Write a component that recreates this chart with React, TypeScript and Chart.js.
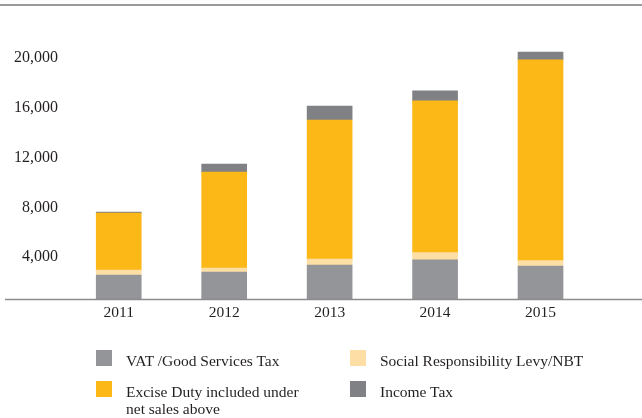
import React, { useEffect, useRef } from "react";
import { Chart, registerables } from "chart.js";

Chart.register(...registerables);

const categories = ["2011", "2012", "2013", "2014", "2015"];
const vatValues = [1930, 2170, 2730, 3140, 2650];
const levyValues = [400, 320, 480, 590, 430];
const exciseValues = [4580, 7720, 11180, 12200, 16140];
const incomeValues = [80, 640, 1130, 800, 640];

const seriesNames = [
  "VAT /Good Services Tax",
  "Social Responsibility Levy/NBT",
  "Excise Duty included under\nnet sales above",
  "Income Tax",
];
const seriesColors = ["#939598", "#FDDFA6", "#FBB817", "#808184"];
const yTickValues = [4000, 8000, 12000, 16000, 20000];

const FONT = "'Liberation Serif', 'Times New Roman', serif";
const TEXT = "#231F20";

const linesPlugin = {
  id: "customLines",
  afterDatasetsDraw(chart: any) {
    const ctx = chart.ctx;
    const bottom = chart.chartArea.bottom;
    ctx.save();
    ctx.strokeStyle = "#9A9A9A";
    ctx.lineWidth = 2;
    ctx.beginPath();
    ctx.moveTo(0, 5);
    ctx.lineTo(chart.width, 5);
    ctx.stroke();
    ctx.strokeStyle = "#8C8C8C";
    ctx.lineWidth = 1.5;
    ctx.beginPath();
    ctx.moveTo(5, bottom + 0.5);
    ctx.lineTo(chart.width, bottom + 0.5);
    ctx.stroke();
    ctx.restore();
  },
};

export default function App() {
  const ref = useRef<HTMLCanvasElement | null>(null);

  useEffect(() => {
    if (!ref.current) return;
    const seriesData = [vatValues, levyValues, exciseValues, incomeValues];
    const chart = new Chart(ref.current, {
      type: "bar",
      data: {
        labels: categories,
        datasets: seriesData.map((d, i) => ({
          label: seriesNames[i],
          data: d,
          backgroundColor: seriesColors[i],
          borderWidth: 0,
          barThickness: 45,
          stack: "s",
        })),
      },
      options: {
        animation: false,
        responsive: false,
        devicePixelRatio: 1,
        layout: { padding: { top: 50.25, right: 48.75, bottom: 89, left: 0 } },
        plugins: {
          legend: { display: false },
          tooltip: { enabled: false },
        },
        scales: {
          x: {
            stacked: true,
            grid: { display: false },
            border: { display: false },
            ticks: {
              color: TEXT,
              font: { family: FONT, size: 15.5 },
              padding: -3,
            },
            afterFit: (s: any) => {
              s.height = 30;
            },
          },
          y: {
            stacked: true,
            min: 0,
            max: 20000,
            grid: { display: false },
            border: { display: false },
            afterBuildTicks: (s: any) => {
              s.ticks = [0, ...yTickValues].map((v) => ({ value: v }));
            },
            ticks: {
              color: TEXT,
              font: { family: FONT, size: 16 },
              padding: 0,
              labelOffset: 8,
              callback: (v: any) => (v === 0 ? "" : Number(v).toLocaleString("en-US")),
            },
            afterFit: (s: any) => {
              s.width = 66;
            },
          },
        },
      },
      plugins: [linesPlugin],
    });
    return () => chart.destroy();
  }, []);

  const legendPos = [
    { left: 96, top: 350 },
    { left: 350, top: 350 },
    { left: 96, top: 381 },
    { left: 350, top: 381 },
  ];

  return (
    <div style={{ position: "fixed", left: 0, top: 0, width: 642, height: 418, background: "#fff" }}>
      <canvas ref={ref} width={642} height={418} style={{ display: "block" }} />
      {seriesNames.map((name, i) => (
        <div key={name}>
          <div
            style={{
              position: "absolute",
              left: legendPos[i].left,
              top: legendPos[i].top,
              width: 16,
              height: 16,
              background: seriesColors[i],
            }}
          />
          <div
            style={{
              position: "absolute",
              left: legendPos[i].left + 30,
              top: legendPos[i].top + 2,
              font: `15.5px ${FONT}`,
              lineHeight: "17px",
              color: TEXT,
              whiteSpace: "pre-line",
            }}
          >
            {name}
          </div>
        </div>
      ))}
    </div>
  );
}
